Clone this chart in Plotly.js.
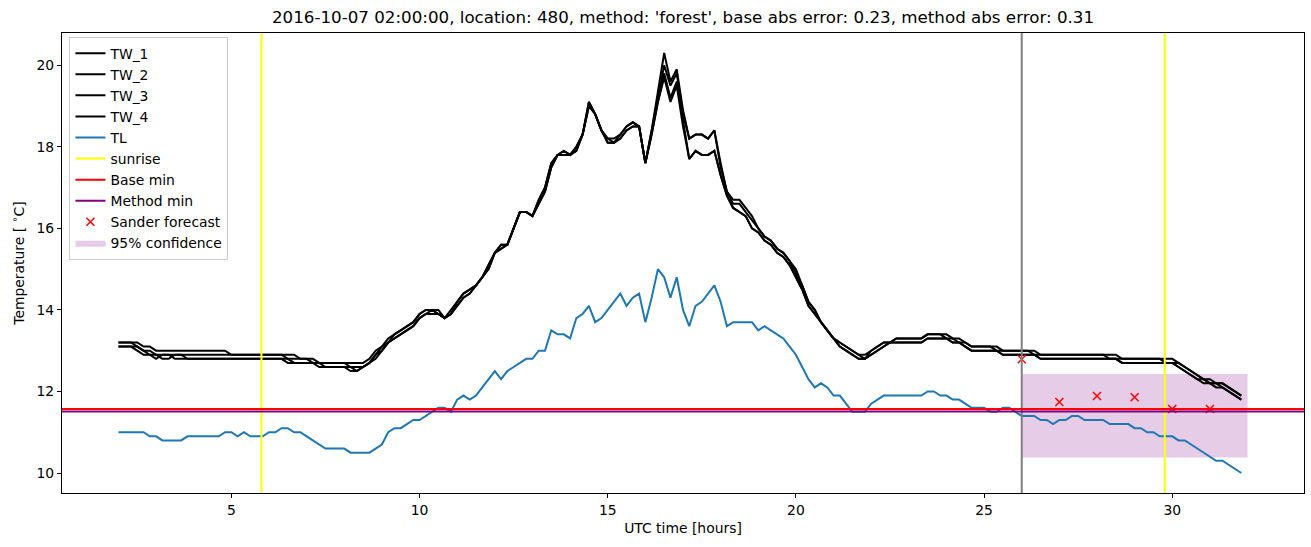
<!DOCTYPE html>
<html>
<head>
<meta charset="utf-8">
<script src="https://cdn.plot.ly/plotly-3.0.1.min.js"></script>
<style>html,body{margin:0;padding:0;background:#fff;}#chart{width:1311px;height:547px;}</style>
</head>
<body>
<div id="chart"></div>
<script>
// ---- data (10-minute samples, starting 02:00 UTC) ----
const startHour = 2;
const stepHours = 1 / 6;

const TW_1 = [
13.2,13.2,13.2,13.2,13.1,13.1, 13.0,13.0,13.0,13.0,13.0,13.0, 13.0,13.0,13.0,13.0,13.0,13.0,
12.9,12.9,12.9,12.9,12.9,12.9, 12.9,12.9,12.9,12.9,12.9,12.8, 12.8,12.8,12.7,12.7,12.7,12.7,
12.7,12.7,12.7,12.7,12.8,13.0, 13.1,13.3,13.4,13.5,13.6,13.7, 13.9,14.0,14.0,14.0,13.8,14.0,
14.2,14.4,14.5,14.6,14.8,15.1, 15.4,15.6,15.6,16.0,16.4,16.4, 16.3,16.7,17.0,17.6,17.8,17.9,
17.8,18.0,18.3,19.1,18.8,18.4, 18.2,18.2,18.3,18.5,18.6,18.5, 17.6,18.4,19.3,20.3,19.6,19.9,
18.9,18.2,18.3,18.3,18.2,18.4, 17.6,16.9,16.7,16.7,16.5,16.3, 16.0,15.8,15.7,15.5,15.4,15.2,
15.0,14.6,14.2,14.0,13.7,13.5, 13.3,13.2,13.1,13.0,12.9,12.9, 13.0,13.1,13.2,13.2,13.3,13.3,
13.3,13.3,13.3,13.4,13.4,13.4, 13.4,13.3,13.3,13.2,13.1,13.1, 13.1,13.1,13.1,13.0,13.0,13.0,
13.0,13.0,13.0,12.9,12.9,12.9, 12.9,12.9,12.9,12.9,12.9,12.9, 12.9,12.9,12.9,12.9,12.8,12.8,
12.8,12.8,12.8,12.8,12.8,12.8, 12.8,12.7,12.6,12.5,12.4,12.3, 12.3,12.2,12.2,12.1,12.0,11.9
];
const TW_2 = [
13.2,13.2,13.2,13.1,13.0,13.0, 12.9,12.9,12.9,12.9,12.9,12.9, 12.9,12.9,12.9,12.9,12.9,12.9,
12.9,12.9,12.9,12.9,12.9,12.9, 12.9,12.9,12.9,12.8,12.8,12.8, 12.8,12.7,12.7,12.7,12.7,12.7,
12.7,12.6,12.6,12.6,12.7,12.9, 13.1,13.2,13.4,13.5,13.6,13.7, 13.9,14.0,14.0,13.9,13.8,13.9,
14.2,14.4,14.5,14.6,14.8,15.1, 15.4,15.6,15.6,16.0,16.4,16.4, 16.3,16.7,17.0,17.6,17.8,17.9,
17.8,18.0,18.3,19.1,18.8,18.4, 18.2,18.1,18.3,18.5,18.6,18.5, 17.6,18.4,19.2,20.0,19.5,19.8,
18.8,18.2,18.3,18.3,18.2,18.4, 17.5,16.9,16.6,16.6,16.4,16.2, 16.0,15.8,15.7,15.5,15.4,15.2,
14.9,14.6,14.2,14.0,13.7,13.5, 13.3,13.2,13.1,13.0,12.9,12.8, 13.0,13.1,13.2,13.2,13.3,13.3,
13.3,13.3,13.3,13.4,13.4,13.4, 13.3,13.3,13.2,13.2,13.1,13.1, 13.1,13.1,13.0,13.0,13.0,13.0,
13.0,13.0,12.9,12.9,12.9,12.9, 12.9,12.9,12.9,12.9,12.9,12.9, 12.9,12.9,12.8,12.8,12.8,12.8,
12.8,12.8,12.8,12.8,12.8,12.7, 12.7,12.7,12.6,12.5,12.4,12.3, 12.2,12.2,12.2,12.1,12.0,11.9
];
const TW_3 = [
13.1,13.1,13.1,13.0,12.9,12.9, 12.8,12.9,12.9,12.8,12.8,12.8, 12.8,12.8,12.8,12.8,12.8,12.8,
12.8,12.8,12.8,12.8,12.8,12.8, 12.8,12.8,12.8,12.8,12.7,12.7, 12.7,12.7,12.7,12.6,12.6,12.6,
12.6,12.6,12.5,12.6,12.7,12.8, 13.0,13.2,13.3,13.4,13.5,13.6, 13.8,13.9,14.0,13.9,13.8,13.9,
14.1,14.3,14.4,14.6,14.8,15.0, 15.4,15.5,15.6,16.0,16.4,16.4, 16.3,16.6,16.9,17.5,17.8,17.8,
17.8,17.9,18.3,19.0,18.8,18.4, 18.1,18.1,18.2,18.4,18.5,18.5, 17.6,18.3,19.1,19.8,19.2,19.6,
18.6,17.7,17.9,17.8,17.8,17.9, 17.3,16.8,16.5,16.4,16.3,16.0, 15.9,15.7,15.6,15.4,15.3,15.1,
14.8,14.5,14.1,13.9,13.7,13.5, 13.3,13.1,13.0,12.9,12.8,12.8, 12.9,13.0,13.1,13.2,13.2,13.2,
13.2,13.2,13.2,13.3,13.3,13.3, 13.3,13.2,13.2,13.1,13.0,13.0, 13.0,13.0,13.0,12.9,12.9,12.9,
12.9,12.9,12.9,12.8,12.8,12.8, 12.8,12.8,12.8,12.8,12.8,12.8, 12.8,12.8,12.8,12.8,12.7,12.7,
12.7,12.7,12.7,12.7,12.7,12.7, 12.7,12.6,12.5,12.4,12.3,12.3, 12.2,12.1,12.1,12.0,11.9,11.8
];
const TW_4 = [
13.1,13.1,13.1,13.1,13.0,12.9, 12.9,12.8,12.8,12.9,12.9,12.8, 12.8,12.8,12.8,12.8,12.8,12.8,
12.8,12.8,12.8,12.8,12.8,12.8, 12.8,12.8,12.8,12.7,12.7,12.7, 12.7,12.7,12.6,12.6,12.6,12.6,
12.6,12.5,12.5,12.6,12.7,12.9, 13.0,13.2,13.3,13.4,13.5,13.6, 13.8,13.9,13.9,13.9,13.8,13.9,
14.1,14.3,14.4,14.6,14.8,15.0, 15.4,15.5,15.6,16.0,16.4,16.4, 16.3,16.6,16.9,17.5,17.8,17.8,
17.8,17.9,18.3,19.0,18.8,18.4, 18.1,18.1,18.2,18.4,18.5,18.5, 17.6,18.3,19.1,19.7,19.1,19.5,
18.5,17.7,17.9,17.8,17.8,17.9, 17.3,16.8,16.5,16.4,16.3,16.0, 15.9,15.7,15.6,15.4,15.3,15.1,
14.8,14.5,14.1,13.9,13.7,13.5, 13.3,13.1,13.0,12.9,12.8,12.8, 12.9,13.0,13.1,13.2,13.2,13.2,
13.2,13.2,13.2,13.3,13.3,13.3, 13.3,13.2,13.2,13.1,13.0,13.0, 13.0,13.0,13.0,12.9,12.9,12.9,
12.9,12.9,12.9,12.8,12.8,12.8, 12.8,12.8,12.8,12.8,12.8,12.8, 12.8,12.8,12.8,12.8,12.7,12.7,
12.7,12.7,12.7,12.7,12.7,12.7, 12.7,12.6,12.5,12.4,12.3,12.2, 12.2,12.2,12.1,12.0,11.9,11.8
];
const TL = [
11.0,11.0,11.0,11.0,11.0,10.9, 10.9,10.8,10.8,10.8,10.8,10.9, 10.9,10.9,10.9,10.9,10.9,11.0,
11.0,10.9,11.0,10.9,10.9,10.9, 11.0,11.0,11.1,11.1,11.0,11.0, 10.9,10.8,10.7,10.6,10.6,10.6,
10.6,10.5,10.5,10.5,10.5,10.6, 10.7,11.0,11.1,11.1,11.2,11.3, 11.3,11.4,11.5,11.6,11.6,11.5,
11.8,11.9,11.8,11.9,12.1,12.3, 12.5,12.3,12.5,12.6,12.7,12.8, 12.8,13.0,13.0,13.5,13.4,13.4,
13.3,13.8,13.9,14.1,13.7,13.8, 14.0,14.2,14.4,14.1,14.3,14.4, 13.7,14.3,15.0,14.8,14.3,14.8,
14.0,13.6,14.1,14.2,14.4,14.6, 14.2,13.6,13.7,13.7,13.7,13.7, 13.5,13.6,13.5,13.4,13.3,13.1,
12.9,12.6,12.3,12.1,12.2,12.1, 11.9,11.9,11.7,11.5,11.5,11.5, 11.7,11.8,11.9,11.9,11.9,11.9,
11.9,11.9,11.9,12.0,12.0,11.9, 11.9,11.8,11.8,11.7,11.6,11.6, 11.6,11.5,11.5,11.6,11.6,11.5,
11.4,11.4,11.4,11.3,11.3,11.2, 11.3,11.3,11.4,11.4,11.3,11.3, 11.3,11.3,11.2,11.2,11.2,11.2,
11.1,11.1,11.0,11.0,10.9,10.9, 10.9,10.8,10.8,10.7,10.6,10.5, 10.4,10.3,10.3,10.2,10.1,10.0
];

const sunriseHours = [5.8, 29.8];
const forecastStartHour = 26;
const baseMin = 11.57;
const methodMin = 11.51;
const sanderHours = [26, 27, 28, 29, 30, 31];
const sanderForecast = [12.79, 11.74, 11.89, 11.86, 11.57, 11.57];
const confHours = [26, 32];
const confLower = 10.38;
const confUpper = 12.43;

const xTicks = [5, 10, 15, 20, 25, 30];
const yTicks = [10, 12, 14, 16, 18, 20];
const titleText = "2016-10-07 02:00:00, location: 480, method: 'forest', base abs error: 0.23, method abs error: 0.31";

// ---- build ----
const hours = TL.map((_, i) => startHour + i * stepHours);
const FONT = 'DejaVu Sans, sans-serif';
const LW = 2;

const traces = [];
// confidence band (drawn first, listed last in legend)
traces.push({
  x: [confHours[0], confHours[1], confHours[1], confHours[0], confHours[0]],
  y: [confLower, confLower, confUpper, confUpper, confLower],
  type: 'scatter', mode: 'lines', fill: 'toself',
  fillcolor: 'rgba(128,0,128,0.2)', line: {width: 0, color: 'rgba(128,0,128,0.2)'},
  name: '95% confidence', legendrank: 10, hoverinfo: 'skip'
});
const tw = [TW_1, TW_2, TW_3, TW_4];
tw.forEach((arr, k) => {
  traces.push({x: hours, y: arr, type: 'scatter', mode: 'lines',
    line: {color: 'black', width: LW}, name: 'TW_' + (k + 1), legendrank: k + 1});
});
traces.push({x: hours, y: TL, type: 'scatter', mode: 'lines',
  line: {color: '#1f77b4', width: LW}, name: 'TL', legendrank: 5});
// legend-only entries for reference lines
traces.push({x: [null], y: [null], type: 'scatter', mode: 'lines', line: {color: 'yellow', width: LW}, name: 'sunrise', legendrank: 6});
traces.push({x: [null], y: [null], type: 'scatter', mode: 'lines', line: {color: 'red', width: LW}, name: 'Base min', legendrank: 7});
traces.push({x: [null], y: [null], type: 'scatter', mode: 'lines', line: {color: 'purple', width: LW}, name: 'Method min', legendrank: 8});
traces.push({x: sanderHours, y: sanderForecast, type: 'scatter', mode: 'markers',
  marker: {symbol: 'x-thin', size: 8, color: 'red', line: {color: 'red', width: 1.5}},
  name: 'Sander forecast', legendrank: 9});

const shapes = [];
sunriseHours.forEach(h => shapes.push({type: 'line', xref: 'x', yref: 'paper', x0: h, x1: h, y0: 0, y1: 1,
  line: {color: 'yellow', width: LW}, layer: 'above'}));
shapes.push({type: 'line', xref: 'x', yref: 'paper', x0: forecastStartHour, x1: forecastStartHour, y0: 0, y1: 1,
  line: {color: 'grey', width: LW}, layer: 'above'});
shapes.push({type: 'line', xref: 'paper', yref: 'y', x0: 0, x1: 1, y0: baseMin, y1: baseMin,
  line: {color: 'red', width: LW}, layer: 'above'});
shapes.push({type: 'line', xref: 'paper', yref: 'y', x0: 0, x1: 1, y0: methodMin, y1: methodMin,
  line: {color: 'purple', width: LW}, layer: 'above'});

const axisCommon = {
  showgrid: false, zeroline: false, showline: true, mirror: true,
  linecolor: 'black', linewidth: 1, ticks: 'outside', ticklen: 4, tickwidth: 1, tickcolor: 'black',
  tickfont: {family: FONT, size: 13.9, color: 'black'}
};

const layout = {
  width: 1311, height: 547,
  margin: {l: 62, r: 7, t: 33, b: 54},
  paper_bgcolor: 'white', plot_bgcolor: 'white',
  font: {family: FONT, color: 'black', size: 13.9},
  title: {text: titleText, font: {family: FONT, size: 16.7, color: 'black'},
    x: 0.5, xref: 'paper', xanchor: 'center', y: 1 - 17.5 / 547, yref: 'container', yanchor: 'middle'},
  xaxis: Object.assign({}, axisCommon, {range: [0.5, 33.5], tickvals: xTicks, ticktext: xTicks.map(String),
    title: {text: 'UTC time [hours]', font: {family: FONT, size: 13.9, color: 'black'}, standoff: 6}}),
  yaxis: Object.assign({}, axisCommon, {range: [9.51, 20.79], tickvals: yTicks, ticktext: yTicks.map(String),
    title: {text: 'Temperature [ <sup>∘</sup>C]', font: {family: FONT, size: 13.9, color: 'black'}, standoff: 8}}),
  showlegend: true,
  legend: {x: 0.006, y: 0.992, xanchor: 'left', yanchor: 'top',
    bgcolor: 'rgba(255,255,255,0.8)', bordercolor: '#cccccc', borderwidth: 1,
    font: {family: FONT, size: 13.9, color: 'black'}, traceorder: 'normal', itemwidth: 30},
  shapes: shapes
};

Plotly.newPlot('chart', traces, layout, {displayModeBar: false, staticPlot: true});
</script>
</body>
</html>
